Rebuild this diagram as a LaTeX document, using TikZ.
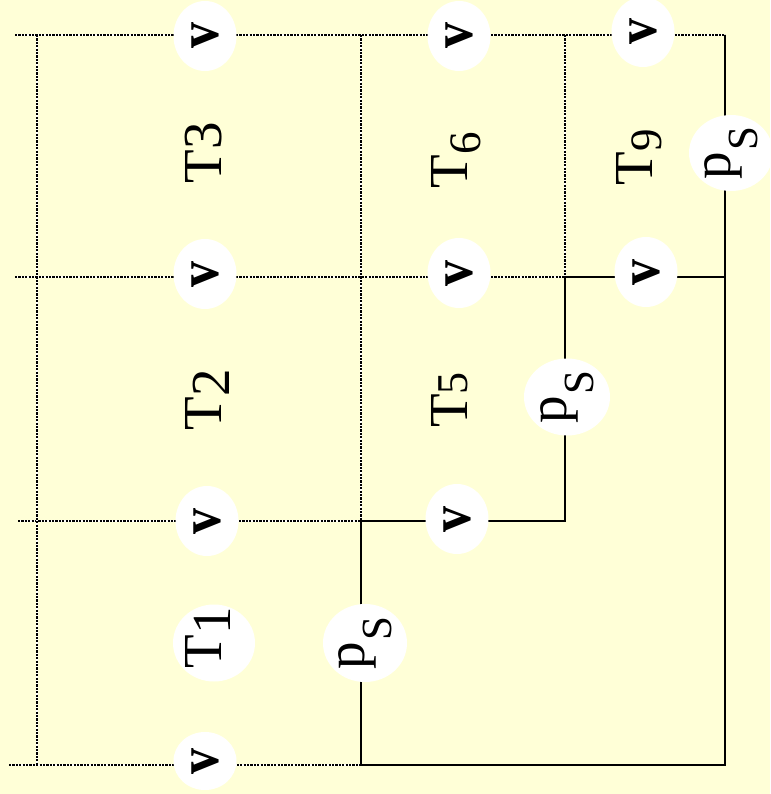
\documentclass[tikz,border=0pt]{standalone}
\usepackage{fontspec}
\setmainfont{Liberation Serif}
\usetikzlibrary{shapes.geometric}
\definecolor{bgyellow}{RGB}{255,255,215}
\newcommand\lblfont{\fontsize{55}{60}\selectfont}
\newcommand\vfont{\fontsize{52}{56}\selectfont\bfseries}
\newcommand\smallsub{\fontsize{44}{48}\selectfont}
\newcommand\midsub{\fontsize{45}{48}\selectfont}
\newcommand\psub{\fontsize{43}{46}\selectfont}
\newcommand\vtxt{\scalebox{1}[1.12]{v}}
\newcommand\pstxt{p\kern1pt\raisebox{-27pt}{\psub S}}
\tikzset{
  grid/.style={line width=2pt, dash pattern=on 2.2pt off 1.2pt,
    preaction={draw=white, solid, line width=2pt}},
  wire/.style={line width=1.6pt, line join=miter},
  blob/.style={ellipse, fill=white, rotate=90, inner sep=0pt, text=black},
  vnode/.style={blob, minimum width=70pt, minimum height=63pt, font=\vfont},
  psnode/.style={blob, minimum width=78pt, minimum height=84pt, font=\lblfont},
  tlabel/.style={rotate=90, inner sep=0pt, font=\lblfont}
}
\begin{document}
\begin{tikzpicture}[x=1pt,y=-1pt]
\fill[bgyellow] (0,0) rectangle (770,794);
\useasboundingbox (0,0) rectangle (770,794);
% grid coordinates
\coordinate (a0) at (15,35);  \coordinate (a1) at (37,35);  \coordinate (a2) at (361,35);
\coordinate (a3) at (565,35); \coordinate (a4) at (725,35);
\coordinate (b0) at (15,277); \coordinate (b3) at (565,277); \coordinate (b4) at (725,277);
\coordinate (c0) at (18,521); \coordinate (c2) at (361,521); \coordinate (c3) at (565,521);
\coordinate (d0) at (9,765);  \coordinate (d1) at (37,765); \coordinate (d2) at (361,765);
\coordinate (d4) at (725,765);
% dotted grid
\draw[grid] (a0) -- (a4);
\draw[grid] (b0) -- (b3);
\draw[grid] (c0) -- (c2);
\draw[grid] (d0) -- (d2);
\draw[grid] (a1) -- (d1);
\draw[grid] (a2) -- (c2);
\draw[grid] (a3) -- (b3);
% solid wires
\draw[wire] (b4) -- (b3) -- (c3) -- (c2) -- (d2) -- (d4) -- (a4) -- cycle;
\draw[wire] (b3) -- (b4);
% v nodes
\node[vnode] (vA) at (205,36) {\vtxt};
\node[vnode] (vB) at (459,36) {\vtxt};
\node[vnode] (vC) at (643,32) {\vtxt};
\node[vnode] (vD) at (205,274) {\vtxt};
\node[vnode] (vE) at (459,273) {\vtxt};
\node[vnode] (vF) at (646,272) {\vtxt};
\node[vnode] (vG) at (207,521) {\vtxt};
\node[vnode] (vH) at (457,519) {\vtxt};
\node[vnode, minimum width=58pt] (vI) at (205,761) {\vtxt};
% ps nodes
\node[psnode] (psA) at (365,643) {\pstxt};
\node[psnode, minimum width=77pt, minimum height=86pt] (psB) at (567,397) {\pstxt};
\node[psnode, minimum width=76pt] (psC) at (731,153) {\pstxt};
% T labels
\node[blob, minimum width=77pt, minimum height=82pt] (T1bg) at (214,643) {};
\node[tlabel] (T1) at (208,638) {T\raisebox{-9pt}{1}};
\node[tlabel] (T2) at (207.5,400) {T\raisebox{-8pt}{2}};
\node[tlabel] (T3) at (203.5,153) {T3};
\node[tlabel] (T5) at (449.5,400) {T{\smallsub 5}};
\node[tlabel] (T6) at (456,160) {T\raisebox{-13pt}{\midsub 6}};
\node[tlabel] (T9) at (639.5,157.5) {T\raisebox{-9pt}{\midsub 9}};
\end{tikzpicture}
\end{document}
